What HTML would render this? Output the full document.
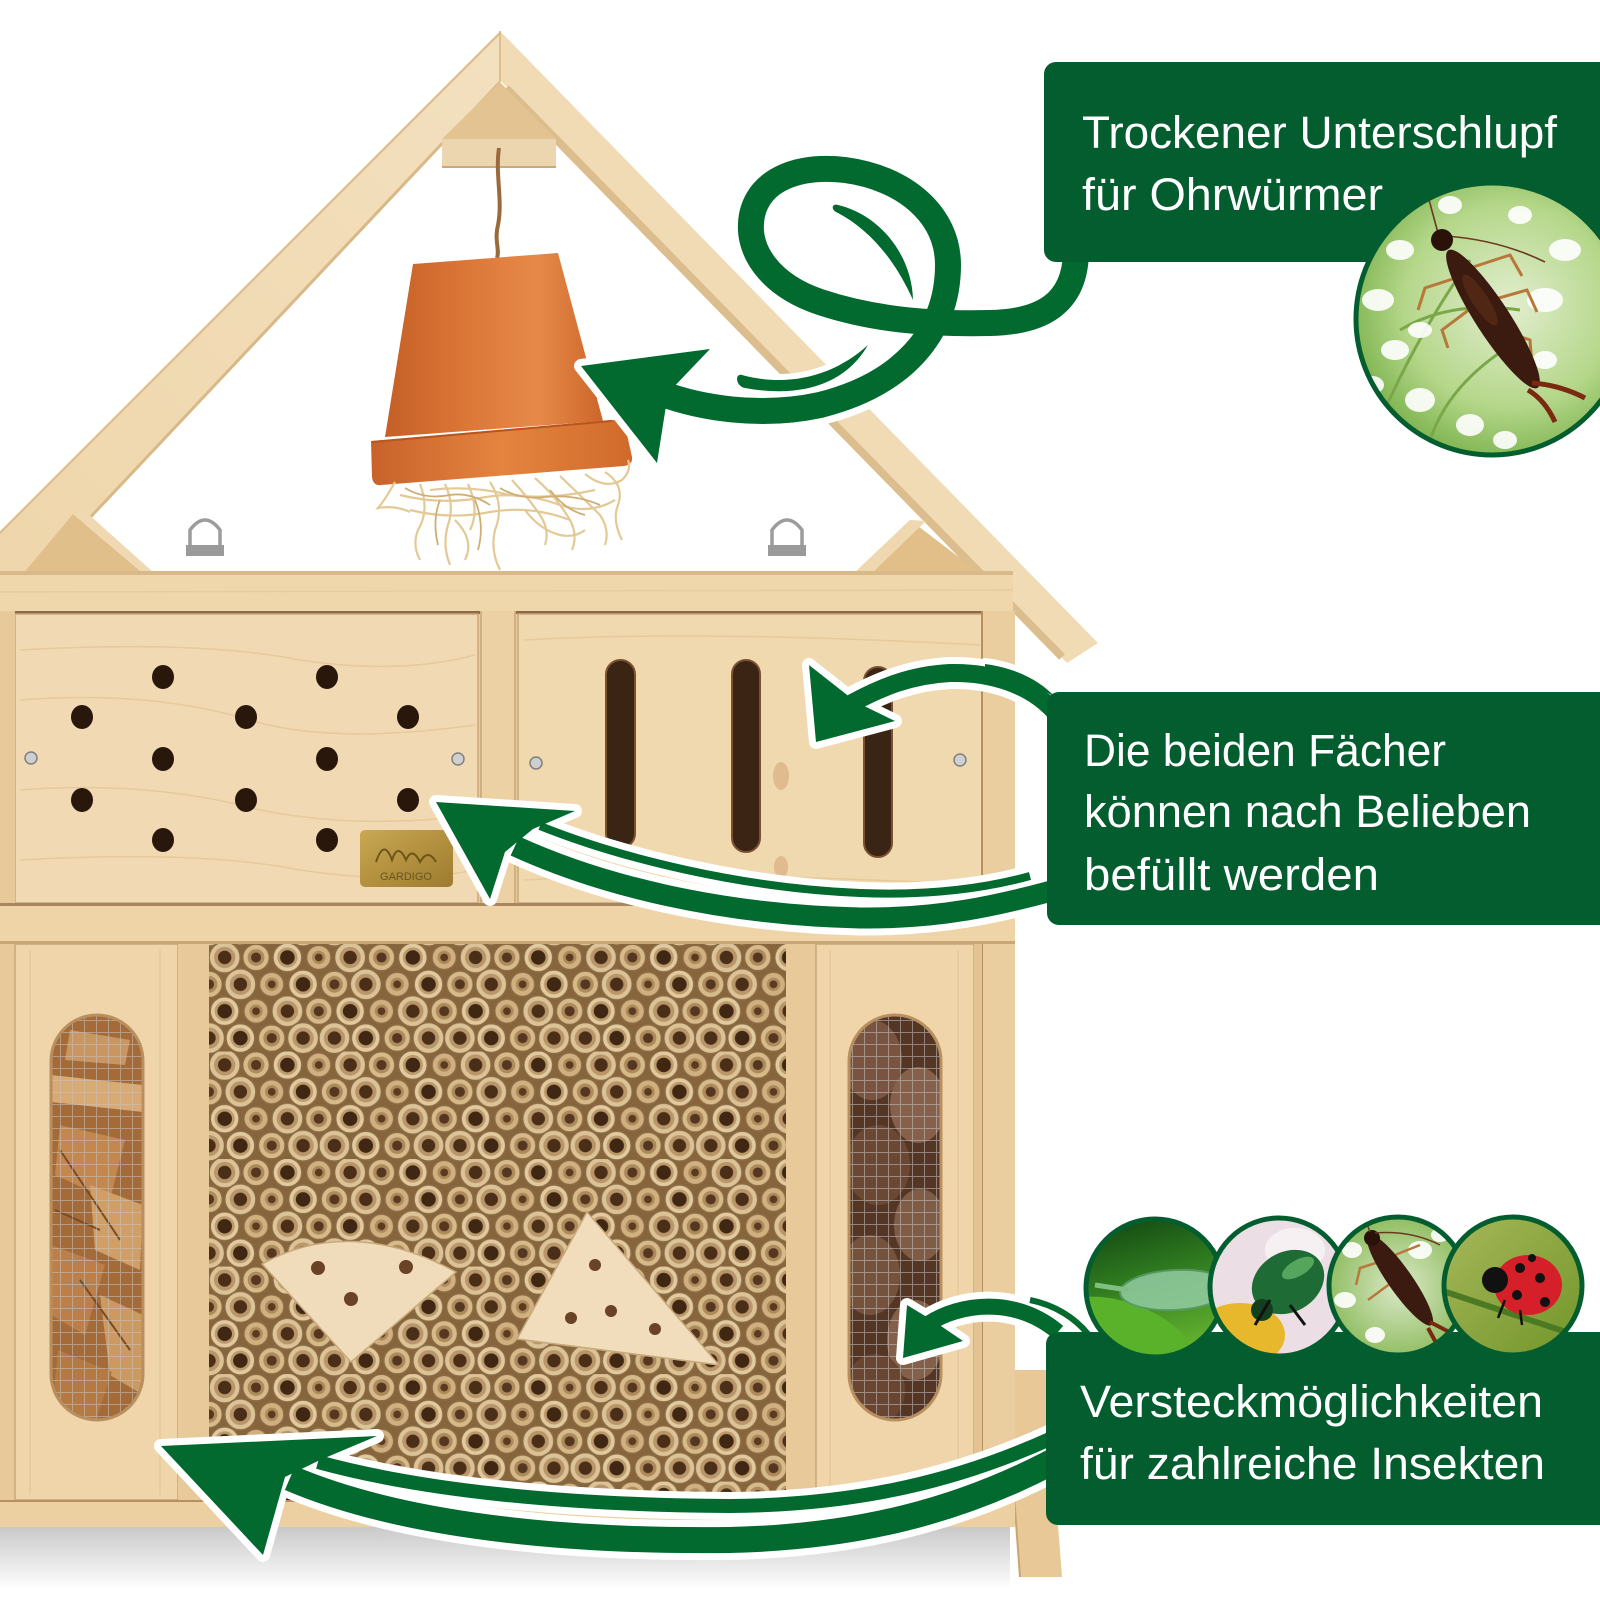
<!DOCTYPE html>
<html><head><meta charset="utf-8">
<style>
html,body{margin:0;padding:0;background:#fff;}
svg{display:block}
.t{font-family:"Liberation Sans Narrow","Liberation Sans",sans-serif;fill:#fff;font-size:45px;}
</style></head><body>
<svg width="1600" height="1600" viewBox="0 0 1600 1600" xmlns="http://www.w3.org/2000/svg">
<defs>
 <linearGradient id="potG" x1="0" x2="1" y1="0" y2="0">
  <stop offset="0" stop-color="#c45f27"/><stop offset="0.35" stop-color="#db7536"/><stop offset="0.7" stop-color="#e68a4a"/><stop offset="1" stop-color="#cc6629"/>
 </linearGradient>
 <linearGradient id="rimG" x1="0" x2="1" y1="0" y2="0">
  <stop offset="0" stop-color="#c8622a"/><stop offset="0.5" stop-color="#e4843f"/><stop offset="1" stop-color="#d06a2c"/>
 </linearGradient>
 <linearGradient id="beamL" x1="0" y1="1" x2="1" y2="0">
  <stop offset="0" stop-color="#efd6ab"/><stop offset="1" stop-color="#f3e0bf"/>
 </linearGradient>
 <linearGradient id="shadowG" x1="0" y1="0" x2="0" y2="1">
  <stop offset="0" stop-color="#c9c9c9"/><stop offset="1" stop-color="#ffffff"/>
 </linearGradient>
 <linearGradient id="brass" x1="0" y1="0" x2="1" y2="1">
  <stop offset="0" stop-color="#c9a955"/><stop offset="0.5" stop-color="#b3913f"/><stop offset="1" stop-color="#9c7c30"/>
 </linearGradient>
 <radialGradient id="c1bg" cx="0.55" cy="0.45" r="0.6">
  <stop offset="0" stop-color="#e2eecf"/><stop offset="0.6" stop-color="#b5d78a"/><stop offset="1" stop-color="#74ad45"/>
 </radialGradient>
 <linearGradient id="lacebg" x1="0" y1="0" x2="0.3" y2="1">
  <stop offset="0" stop-color="#0d3f10"/><stop offset="0.5" stop-color="#2f7a1f"/><stop offset="1" stop-color="#5fae2e"/>
 </linearGradient>
 <radialGradient id="earbg" cx="0.5" cy="0.5" r="0.6">
  <stop offset="0" stop-color="#dbe9c8"/><stop offset="1" stop-color="#7fb34a"/>
 </radialGradient>
 <linearGradient id="ladybg" x1="0" y1="0" x2="1" y2="1">
  <stop offset="0" stop-color="#a8b85a"/><stop offset="1" stop-color="#6f9428"/>
 </linearGradient>
 <g id="tA"><circle r="14" fill="#dcc397" stroke="#8a6a42" stroke-width="1.5"/><circle r="9.5" fill="#b8966a"/><circle r="6" fill="#4a2e18"/></g>
 <g id="tB"><circle r="12" fill="#d6ba8a" stroke="#8a6a42" stroke-width="1.5"/><circle r="7.5" fill="#ad8a5c"/><circle r="4.5" fill="#553620"/></g>
 <g id="tC"><circle r="13" fill="#e2caa0" stroke="#8a6a42" stroke-width="1.5"/><circle r="9" fill="#bc9a6c"/><circle r="6.5" fill="#3f2714"/></g>
 <g id="tD"><circle r="11" fill="#d0b080" stroke="#8a6a42" stroke-width="1.5"/><circle r="6" fill="#ae8a5a"/><circle r="3.5" fill="#5a3a20"/></g>
 <pattern id="bam" x="209" y="944" width="112" height="96" patternUnits="userSpaceOnUse" patternTransform="translate(209 944) scale(1.12) translate(-209 -944)">
  <rect width="112" height="96" fill="#86643c"/>
  <use href="#tA" x="0" y="-12"/><use href="#tC" x="28" y="-12"/><use href="#tB" x="56" y="-12"/><use href="#tA" x="84" y="-12"/><use href="#tA" x="112" y="-12"/>
  <use href="#tA" x="14" y="12"/><use href="#tB" x="42" y="12"/><use href="#tC" x="70" y="12"/><use href="#tD" x="98" y="12"/>
  <use href="#tB" x="0" y="36"/><use href="#tA" x="28" y="36"/><use href="#tD" x="56" y="36"/><use href="#tC" x="84" y="36"/><use href="#tB" x="112" y="36"/>
  <use href="#tC" x="14" y="60"/><use href="#tD" x="42" y="60"/><use href="#tA" x="70" y="60"/><use href="#tB" x="98" y="60"/>
  <use href="#tA" x="0" y="84"/><use href="#tC" x="28" y="84"/><use href="#tB" x="56" y="84"/><use href="#tA" x="84" y="84"/><use href="#tA" x="112" y="84"/>
 </pattern>
 <pattern id="mesh" x="0" y="0" width="12" height="12" patternUnits="userSpaceOnUse">
  <path d="M0,0.5H12M0.5,0V12" stroke="#c4c4c4" stroke-width="1" fill="none" opacity="0.55"/>
 </pattern>
 <clipPath id="winL"><rect x="51" y="1015" width="92" height="405" rx="46"/></clipPath>
 <clipPath id="winR"><rect x="849" y="1015" width="92" height="405" rx="46"/></clipPath>
 <clipPath id="cc1"><circle cx="1492" cy="319" r="136"/></clipPath>
 <clipPath id="cb1"><circle cx="1155" cy="1288" r="69"/></clipPath>
 <clipPath id="cb2"><circle cx="1279" cy="1287" r="69"/></clipPath>
 <clipPath id="cb3"><circle cx="1398" cy="1286" r="69"/></clipPath>
 <clipPath id="cb4"><circle cx="1513" cy="1286" r="69"/></clipPath>
</defs>

<rect width="1600" height="1600" fill="#fff"/>

<!-- shadow under house -->
<rect x="0" y="1527" width="1010" height="62" fill="url(#shadowG)"/>

<!-- right leg -->
<polygon points="1003,1370 1046,1370 1062,1577 1020,1577" fill="#e7c896"/>
<line x1="1020" y1="1577" x2="1005" y2="1372" stroke="#c9a46f" stroke-width="2"/>

<!-- ROOF -->
<polygon points="500,31 0,531 0,575 36,575 500,80" fill="url(#beamL)"/>
<line x1="500" y1="33" x2="0" y2="533" stroke="#dcbd8c" stroke-width="2"/>
<line x1="500" y1="82" x2="36" y2="575" stroke="#d8b987" stroke-width="3"/>
<polygon points="500,31 1098,643 1067,663 500,80" fill="#f1dbb5"/>
<path d="M506,88 L1062,657" stroke="#dcbd8d" stroke-width="8"/>
<line x1="500" y1="31" x2="500" y2="82" stroke="#d5b584" stroke-width="1.5"/>
<!-- apex block -->
<polygon points="500,82 442,139 556,139" fill="#e2c391"/>
<rect x="442" y="139" width="114" height="28" fill="#ecd6b0"/>
<line x1="442" y1="167" x2="556" y2="167" stroke="#c9a87b" stroke-width="2"/>
<!-- gussets -->
<polygon points="22,575 73,514 145,575" fill="#e0bf8b"/>
<polygon points="73,514 86,512 153,572 145,575" fill="#f0d9b2"/>
<polygon points="850,577 910,520 985,577" fill="#e2be88"/>
<polygon points="850,577 910,520 926,521 868,577" fill="#efd8b0"/>

<!-- rope -->
<path d="M499,148 C495,175 503,200 498,225 C494,240 500,250 497,258" stroke="#9b6a3b" stroke-width="4" fill="none"/>

<!-- D rings -->
<g fill="none" stroke="#9c9c9c" stroke-width="3.5">
 <path d="M190,549 L190,530 Q205,510 220,530 L220,549"/>
 <path d="M772,549 L772,530 Q787,510 802,530 L802,549"/>
</g>
<rect x="186" y="545" width="38" height="11" fill="#9a9a9a"/>
<rect x="768" y="545" width="38" height="11" fill="#9a9a9a"/>

<!-- POT -->
<path d="M413,264 L558,253 L603,421 L385,437 Z" fill="url(#potG)"/>
<path d="M371,441 L610,420 Q622,419 626,430 L632,457 Q633,465 624,466 L381,485 Q373,486 372,477 Z" fill="url(#rimG)"/>
<path d="M372,442 L612,421" stroke="#b8561f" stroke-width="2"/>
<!-- straw -->
<g fill="none" stroke="#e3c995" stroke-width="2.2">
 <path d="M395,482 Q385,500 378,508 Q395,505 410,512"/>
 <path d="M420,484 Q430,510 418,530 Q412,545 420,560"/>
 <path d="M445,484 Q455,505 448,525 Q442,545 450,565"/>
 <path d="M468,484 Q480,510 470,530"/>
 <path d="M490,482 Q505,505 495,530 Q490,550 500,570"/>
 <path d="M512,480 Q530,500 540,515 Q550,530 545,545"/>
 <path d="M535,478 Q555,495 570,520 Q578,535 572,550"/>
 <path d="M560,476 Q580,495 600,515 Q610,530 605,545"/>
 <path d="M585,474 Q605,490 622,480 Q632,470 628,460"/>
 <path d="M605,472 Q625,485 618,505 Q612,520 622,540"/>
 <path d="M400,495 Q440,505 480,498 Q520,490 560,505 Q590,515 615,500"/>
 <path d="M410,510 Q450,520 490,512 Q530,505 570,520"/>
 <path d="M430,490 Q470,485 510,495 Q550,500 595,490"/>
 <path d="M455,520 Q475,540 465,560"/>
 <path d="M525,510 Q540,530 560,535 Q575,538 585,530"/>
</g>
<g fill="none" stroke="#cfae76" stroke-width="1.8">
 <path d="M405,488 Q425,500 450,495 Q470,492 490,505"/>
 <path d="M500,488 Q520,500 545,497 Q575,494 600,505"/>
 <path d="M440,500 Q432,520 438,545"/>
 <path d="M550,490 Q565,510 585,515"/>
 <path d="M475,500 Q485,525 478,550"/>
</g>

<!-- TOP RAIL -->
<rect x="0" y="571" width="1013" height="40" fill="#efd6ab"/>
<rect x="0" y="571" width="1013" height="4" fill="#d9b98a"/>
<line x1="0" y1="592" x2="1013" y2="590" stroke="#e4c89b" stroke-width="1.5" opacity="0.7"/>

<!-- BODY -->
<rect x="0" y="611" width="1015" height="916" fill="#e9cc9c"/>
<rect x="0" y="611" width="1015" height="3" fill="#8a6a48"/>
<!-- upper panels -->
<rect x="15" y="614" width="463" height="289" fill="#f1dab3" stroke="#c9a679" stroke-width="1.5"/>
<rect x="480" y="611" width="36" height="292" fill="#ecd1a4"/>
<line x1="481" y1="611" x2="481" y2="903" stroke="#c7a575" stroke-width="1.5"/>
<line x1="515" y1="611" x2="515" y2="903" stroke="#c7a575" stroke-width="1.5"/>
<rect x="518" y="614" width="464" height="289" fill="#f0d8af" stroke="#c9a679" stroke-width="1.5"/>
<rect x="982" y="611" width="33" height="916" fill="#ebce9f"/>
<line x1="982" y1="611" x2="982" y2="1500" stroke="#b89060" stroke-width="2"/>
<rect x="0" y="611" width="15" height="916" fill="#e8ca9a"/>
<!-- grain upper -->
<g fill="none" stroke="#e2c393" stroke-width="1.5" opacity="0.7">
 <path d="M20,650 Q200,640 300,660 Q400,675 475,655"/>
 <path d="M20,700 Q150,690 250,720 Q330,745 475,725"/>
 <path d="M20,790 Q150,780 260,810 Q360,830 475,815"/>
 <path d="M20,860 Q200,850 300,870 Q400,885 475,870"/>
 <path d="M525,640 Q700,630 980,645"/>
 <path d="M525,880 Q700,870 980,885"/>
</g>
<!-- knots -->
<ellipse cx="781" cy="776" rx="8" ry="14" fill="#dcb487" opacity="0.8"/>
<ellipse cx="781" cy="867" rx="7" ry="11" fill="#dcb487" opacity="0.8"/>
<!-- holes -->
<g fill="#2a170b">
 <ellipse cx="163" cy="677" rx="11" ry="12"/><ellipse cx="327" cy="677" rx="11" ry="12"/>
 <ellipse cx="82" cy="717" rx="11" ry="12"/><ellipse cx="246" cy="717" rx="11" ry="12"/><ellipse cx="408" cy="717" rx="11" ry="12"/>
 <ellipse cx="163" cy="759" rx="11" ry="12"/><ellipse cx="327" cy="759" rx="11" ry="12"/>
 <ellipse cx="82" cy="800" rx="11" ry="12"/><ellipse cx="246" cy="800" rx="11" ry="12"/><ellipse cx="408" cy="800" rx="11" ry="12"/>
 <ellipse cx="163" cy="840" rx="11" ry="12"/><ellipse cx="327" cy="840" rx="11" ry="12"/>
</g>
<!-- slots -->
<g fill="#3a2414" stroke="#7a5232" stroke-width="2">
 <rect x="606" y="660" width="29" height="188" rx="14.5"/>
 <rect x="732" y="660" width="28" height="192" rx="14"/>
 <rect x="864" y="667" width="28" height="190" rx="14"/>
</g>
<!-- logo plate -->
<rect x="360" y="830" width="93" height="57" rx="5" fill="url(#brass)"/>
<path d="M376,862 Q384,838 392,860 Q398,842 406,860 Q412,846 420,862 Q428,848 436,862" stroke="#6e5418" stroke-width="2" fill="none"/>
<text x="406" y="880" font-family="Liberation Sans Narrow, Liberation Sans, sans-serif" font-size="11" fill="#6a5420" text-anchor="middle">GARDIGO</text>
<!-- screws -->
<g fill="#cfcfcf" stroke="#808080" stroke-width="1.5">
 <circle cx="31" cy="758" r="6"/><circle cx="458" cy="759" r="6"/><circle cx="536" cy="763" r="6"/><circle cx="960" cy="760" r="6"/>
 <circle cx="94" cy="957" r="6"/><circle cx="898" cy="959" r="6"/><circle cx="99" cy="1478" r="6"/>
</g>

<!-- middle rail -->
<rect x="0" y="903" width="1015" height="41" fill="#efd4a8"/>
<rect x="0" y="903" width="1015" height="3" fill="#a88660"/>
<rect x="0" y="941" width="1015" height="3" fill="#c9a677"/>

<!-- lower section -->
<rect x="15" y="944" width="163" height="556" fill="#f0d5aa" stroke="#c9a679" stroke-width="1.5"/>
<rect x="178" y="944" width="31" height="556" fill="#e8c999"/>
<rect x="209" y="944" width="577" height="556" fill="url(#bam)"/>
<rect x="786" y="944" width="30" height="556" fill="#e8c999"/>
<rect x="816" y="944" width="158" height="556" fill="#f0d5aa" stroke="#c9a679" stroke-width="1.5"/>
<rect x="974" y="944" width="8" height="556" fill="#e2c391"/>
<g stroke="#dfc08f" stroke-width="1.5" opacity="0.6">
 <line x1="30" y1="950" x2="30" y2="1495"/><line x1="160" y1="950" x2="160" y2="1495"/>
 <line x1="830" y1="950" x2="830" y2="1495"/><line x1="958" y1="950" x2="958" y2="1495"/>
</g>
<!-- left window wood chips -->
<g clip-path="url(#winL)">
 <rect x="51" y="1015" width="92" height="405" fill="#a46b38"/>
 <polygon points="51,1075 143,1085 143,1112 51,1102" fill="#d9aa74"/>
 <polygon points="60,1125 125,1140 110,1200 55,1175" fill="#c4884e"/>
 <polygon points="90,1185 143,1205 140,1270 95,1250" fill="#d19f66"/>
 <polygon points="51,1245 105,1265 85,1335 51,1315" fill="#bd7f47"/>
 <polygon points="100,1295 143,1315 143,1395 110,1375" fill="#cc9a60"/>
 <polygon points="58,1350 112,1372 96,1420 51,1420" fill="#b47a42"/>
 <polygon points="70,1030 130,1040 125,1065 65,1060" fill="#c99560"/>
 <path d="M60,1150 L120,1240 M80,1280 L130,1350 M55,1210 L100,1230" stroke="#7a4a25" stroke-width="2"/>
 <rect x="51" y="1015" width="92" height="405" fill="url(#mesh)"/>
</g>
<rect x="51" y="1015" width="92" height="405" rx="46" fill="none" stroke="#b88f5e" stroke-width="3"/>
<!-- right window pine cones -->
<g clip-path="url(#winR)">
 <rect x="849" y="1015" width="92" height="405" fill="#553624"/>
 <ellipse cx="872" cy="1060" rx="30" ry="40" fill="#7a5440"/>
 <ellipse cx="918" cy="1105" rx="28" ry="38" fill="#86604a"/>
 <ellipse cx="878" cy="1165" rx="32" ry="40" fill="#6a4834"/>
 <ellipse cx="920" cy="1225" rx="26" ry="36" fill="#7e5c46"/>
 <ellipse cx="870" cy="1275" rx="30" ry="40" fill="#75523c"/>
 <ellipse cx="915" cy="1340" rx="28" ry="40" fill="#84604a"/>
 <ellipse cx="875" cy="1390" rx="30" ry="36" fill="#6a4632"/>
 <rect x="849" y="1015" width="92" height="405" fill="url(#mesh)"/>
</g>
<rect x="849" y="1015" width="92" height="405" rx="46" fill="none" stroke="#b88f5e" stroke-width="3"/>

<!-- wood pieces in bamboo -->
<path d="M262,1264 Q350,1215 456,1272 L351,1362 Z" fill="#f0dcbb" stroke="#c8a97c" stroke-width="1.5"/>
<polygon points="587,1212 517,1339 719,1365" fill="#f1ddbc" stroke="#c8a97c" stroke-width="1.5"/>
<g fill="#6a4326">
 <circle cx="318" cy="1268" r="7"/><circle cx="406" cy="1267" r="7"/><circle cx="351" cy="1299" r="7"/>
 <circle cx="595" cy="1265" r="6"/><circle cx="571" cy="1318" r="6"/><circle cx="611" cy="1311" r="6"/><circle cx="655" cy="1329" r="6"/>
</g>

<!-- bottom rail -->
<rect x="0" y="1500" width="1015" height="27" fill="#ecd0a2"/>
<rect x="0" y="1500" width="1015" height="2" fill="#b89060"/>

<!-- ARROWS: white outlines -->
<g fill="none" stroke="#fff" stroke-linejoin="round">
 <path d="M1076,250 C1076,305 1040,322 990,323 C940,324 880,322 820,302 C770,285 745,250 752,215 C760,178 800,165 845,170 C905,178 948,215 948,265 C948,335 900,385 820,405 C760,418 700,408 660,393" stroke-width="40"/>
 <polygon points="581,366 710,349 668,393 657,463" stroke-width="14" fill="#fff"/>
 <path d="M742,375 C790,388 835,375 868,345 C845,385 800,398 745,388 C735,386 735,373 742,375 Z" stroke-width="12" fill="#fff"/>
 <path d="M1055,712 C1030,684 990,672 950,673 C910,675 880,688 852,703" stroke-width="32"/>
 <polygon points="809,665 816,742 895,721 856,702" stroke-width="14" fill="#fff"/>
 <path d="M985,664 C1015,668 1040,680 1056,698 C1035,684 1010,675 985,671 Z" stroke-width="12" fill="#fff"/>
 <path d="M515,846 C600,885 720,915 860,918 C940,919 1000,905 1055,890" stroke-width="35"/>
 <path d="M540,826 C620,858 740,888 860,893 C935,896 990,887 1030,876" stroke-width="22"/>
 <polygon points="436,802 575,811 533,829 505,852 490,899" stroke-width="14" fill="#fff"/>
 <path d="M928,1324 C960,1303 1015,1296 1058,1332" stroke-width="30"/>
 <polygon points="907,1305 903,1358 963,1341 935,1322" stroke-width="14" fill="#fff"/>
 <path d="M1030,1300 C1055,1305 1075,1318 1088,1334" stroke-width="18"/>
 <path d="M290,1478 C400,1525 560,1542 730,1540 C860,1537 960,1510 1052,1462" stroke-width="40"/>
 <path d="M318,1462 C420,1490 560,1505 730,1506 C860,1505 960,1480 1052,1438" stroke-width="28"/>
 <polygon points="161,1446 377,1436 320,1460 285,1477 263,1555" stroke-width="14" fill="#fff"/>
</g>
<!-- ARROWS: green -->
<g fill="none" stroke="#02692f">
 <path d="M1076,250 C1076,305 1040,322 990,323 C940,324 880,322 820,302 C770,285 745,250 752,215 C760,178 800,165 845,170 C905,178 948,215 948,265 C948,335 900,385 820,405 C760,418 700,408 660,393" stroke-width="26"/>
 <path d="M1055,712 C1030,684 990,672 950,673 C910,675 880,688 852,703" stroke-width="18"/>
 <path d="M515,846 C600,885 720,915 860,918 C940,919 1000,905 1055,890" stroke-width="21"/>
 <path d="M540,826 C620,858 740,888 860,893 C935,896 990,887 1030,876" stroke-width="8"/>
 <path d="M928,1324 C960,1303 1015,1296 1058,1332" stroke-width="16"/>
 <path d="M1030,1300 C1055,1305 1075,1318 1088,1334" stroke-width="6"/>
 <path d="M290,1478 C400,1525 560,1542 730,1540 C860,1537 960,1510 1052,1462" stroke-width="26"/>
 <path d="M318,1462 C420,1490 560,1505 730,1506 C860,1505 960,1480 1052,1438" stroke-width="14"/>
</g>
<g fill="#02692f">
 <polygon points="581,366 710,349 668,393 657,463"/>
 <path d="M838,205 C880,215 912,255 913,300 C895,260 870,230 838,213 C830,210 832,203 838,205 Z"/>
 <path d="M742,375 C790,388 835,375 868,345 C845,385 800,398 745,388 C735,386 735,373 742,375 Z"/>
 <polygon points="809,665 816,742 895,721 856,702"/>
 <path d="M985,664 C1015,668 1040,680 1056,698 C1035,684 1010,675 985,671 Z"/>
 <polygon points="436,802 575,811 533,829 505,852 490,899"/>
 <polygon points="907,1305 903,1358 963,1341 935,1322"/>
 <polygon points="161,1446 377,1436 320,1460 285,1477 263,1555"/>
</g>

<!-- GREEN BOXES -->
<rect x="1044" y="62" width="600" height="200" rx="12" fill="#045d2f"/>
<rect x="1047" y="692" width="600" height="233" rx="12" fill="#045d2f"/>
<rect x="1046" y="1332" width="600" height="193" rx="12" fill="#045d2f"/>

<text class="t" x="1082" y="148" textLength="475" lengthAdjust="spacingAndGlyphs">Trockener Unterschlupf</text>
<text class="t" x="1082" y="210" textLength="301" lengthAdjust="spacingAndGlyphs">für Ohrwürmer</text>
<text class="t" x="1084" y="766" textLength="362" lengthAdjust="spacingAndGlyphs">Die beiden Fächer</text>
<text class="t" x="1084" y="827" textLength="447" lengthAdjust="spacingAndGlyphs">können nach Belieben</text>
<text class="t" x="1084" y="890" textLength="295" lengthAdjust="spacingAndGlyphs">befüllt werden</text>
<text class="t" x="1080" y="1417" textLength="463" lengthAdjust="spacingAndGlyphs">Versteckmöglichkeiten</text>
<text class="t" x="1080" y="1479" textLength="465" lengthAdjust="spacingAndGlyphs">für zahlreiche Insekten</text>

<!-- Circle 1: earwig -->
<g clip-path="url(#cc1)">
 <rect x="1350" y="180" width="290" height="280" fill="url(#c1bg)"/>
 <g stroke="#7aa848" stroke-width="3" fill="none">
  <path d="M1380,420 Q1420,330 1470,260"/><path d="M1400,330 Q1450,300 1520,310"/><path d="M1430,440 Q1450,380 1520,340"/>
 </g>
 <g fill="#fff" opacity="0.9">
  <ellipse cx="1400" cy="250" rx="14" ry="10"/><ellipse cx="1378" cy="300" rx="16" ry="11"/><ellipse cx="1395" cy="350" rx="14" ry="10"/>
  <ellipse cx="1420" cy="400" rx="15" ry="12"/><ellipse cx="1470" cy="425" rx="14" ry="11"/><ellipse cx="1545" cy="300" rx="18" ry="12"/>
  <ellipse cx="1565" cy="250" rx="16" ry="11"/><ellipse cx="1372" cy="385" rx="12" ry="9"/><ellipse cx="1450" cy="205" rx="12" ry="9"/>
  <ellipse cx="1520" cy="215" rx="12" ry="9"/><ellipse cx="1505" cy="440" rx="12" ry="9"/><ellipse cx="1420" cy="330" rx="12" ry="8"/>
  <ellipse cx="1545" cy="360" rx="12" ry="9"/><ellipse cx="1395" cy="215" rx="10" ry="8"/>
 </g>
 <g stroke="#b8783a" stroke-width="3" fill="none">
  <path d="M1465,275 L1425,288 L1418,310"/><path d="M1482,300 L1442,330 L1448,348"/>
  <path d="M1470,268 L1510,255 L1522,276"/><path d="M1492,300 L1527,290 L1537,312"/>
  <path d="M1500,330 L1530,340 L1532,365"/>
 </g>
 <g stroke="#6a3a20" stroke-width="1.6" fill="none">
  <path d="M1438,233 L1425,185"/><path d="M1446,236 Q1500,240 1545,262"/>
 </g>
 <ellipse cx="1493" cy="319" rx="82" ry="17" transform="rotate(57 1493 319)" fill="#3b1a10"/>
 <ellipse cx="1480" cy="300" rx="30" ry="8" transform="rotate(57 1480 300)" fill="#5a2d18" opacity="0.7"/>
 <circle cx="1442" cy="240" r="11" fill="#2a120a"/>
 <path d="M1532,383 Q1560,385 1585,398 M1528,390 Q1545,400 1555,422" stroke="#7a2a10" stroke-width="5" fill="none"/>
</g>
<circle cx="1492" cy="319" r="136" fill="none" stroke="#045d2f" stroke-width="5"/>

<!-- Box3 circles -->
<g clip-path="url(#cb1)">
 <rect x="1080" y="1215" width="150" height="145" fill="url(#lacebg)"/>
 <ellipse cx="1125" cy="1335" rx="70" ry="32" transform="rotate(20 1125 1335)" fill="#59b22a"/>
 <ellipse cx="1175" cy="1290" rx="55" ry="20" transform="rotate(-3 1175 1290)" fill="#93cda4" opacity="0.85" stroke="#5a9a6a" stroke-width="2"/>
 <path d="M1095,1285 L1128,1290" stroke="#7fc080" stroke-width="5"/>
</g>
<circle cx="1155" cy="1288" r="69" fill="none" stroke="#045d2f" stroke-width="5"/>
<g clip-path="url(#cb2)">
 <rect x="1205" y="1215" width="150" height="145" fill="#ebdfe5"/>
 <ellipse cx="1240" cy="1335" rx="45" ry="32" fill="#e8b82c"/>
 <ellipse cx="1295" cy="1250" rx="30" ry="22" fill="#f6f0f3"/>
 <ellipse cx="1288" cy="1282" rx="38" ry="30" transform="rotate(-30 1288 1282)" fill="#1f6b35"/>
 <ellipse cx="1298" cy="1268" rx="18" ry="8" transform="rotate(-30 1298 1268)" fill="#63b468" opacity="0.8"/>
 <circle cx="1262" cy="1310" r="11" fill="#143f1f"/>
 <path d="M1290,1305 L1305,1325 M1270,1300 L1255,1325" stroke="#111" stroke-width="3"/>
</g>
<circle cx="1279" cy="1287" r="69" fill="none" stroke="#045d2f" stroke-width="5"/>
<g clip-path="url(#cb3)">
 <rect x="1325" y="1215" width="150" height="145" fill="url(#earbg)"/>
 <g fill="#fff" opacity="0.9">
  <ellipse cx="1352" cy="1250" rx="10" ry="8"/><ellipse cx="1345" cy="1300" rx="11" ry="8"/><ellipse cx="1420" cy="1250" rx="12" ry="9"/>
  <ellipse cx="1375" cy="1335" rx="10" ry="8"/><ellipse cx="1440" cy="1235" rx="9" ry="7"/>
 </g>
 <g stroke="#b8783a" stroke-width="2.5" fill="none">
  <path d="M1385,1260 L1360,1268 L1356,1285"/><path d="M1395,1280 L1368,1300"/><path d="M1395,1255 L1420,1245"/>
 </g>
 <ellipse cx="1400" cy="1280" rx="55" ry="12" transform="rotate(55 1400 1280)" fill="#3b1a10"/>
 <circle cx="1372" cy="1238" r="8" fill="#2a120a"/>
 <path d="M1430,1322 L1455,1335 M1428,1328 L1440,1350" stroke="#7a2a10" stroke-width="4"/>
 <path d="M1370,1232 L1362,1210 M1375,1233 Q1410,1230 1440,1245" stroke="#6a3a20" stroke-width="1.5" fill="none"/>
</g>
<circle cx="1398" cy="1286" r="69" fill="none" stroke="#045d2f" stroke-width="5"/>
<g clip-path="url(#cb4)">
 <rect x="1440" y="1215" width="150" height="145" fill="url(#ladybg)"/>
 <path d="M1440,1290 L1590,1340" stroke="#4c7a22" stroke-width="6"/>
 <ellipse cx="1528" cy="1285" rx="34" ry="30" fill="#d52029"/>
 <circle cx="1495" cy="1280" r="13" fill="#111"/>
 <g fill="#111"><circle cx="1520" cy="1268" r="5"/><circle cx="1540" cy="1278" r="5"/><circle cx="1517" cy="1295" r="5"/><circle cx="1545" cy="1302" r="5"/><circle cx="1532" cy="1258" r="4"/></g>
 <path d="M1505,1300 L1498,1318 M1520,1310 L1522,1325" stroke="#111" stroke-width="2.5"/>
</g>
<circle cx="1513" cy="1286" r="69" fill="none" stroke="#045d2f" stroke-width="5"/>
</svg>
</body></html>
